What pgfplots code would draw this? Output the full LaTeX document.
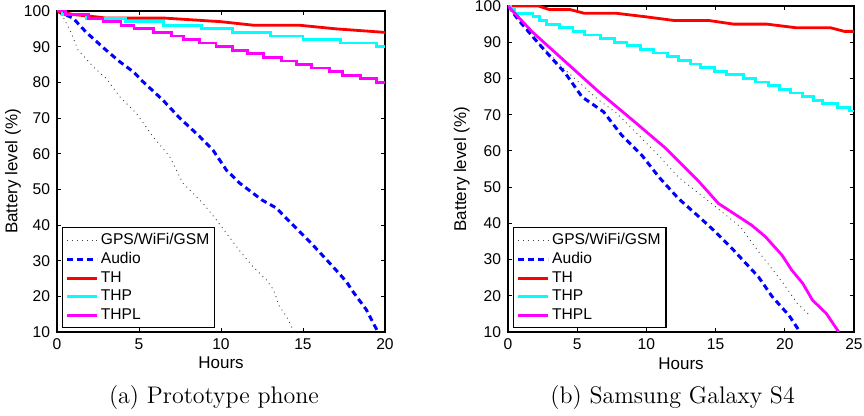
\documentclass[border=0pt]{standalone}
\usepackage{fontspec}
\newfontfamily\helv{Liberation Sans}
\usepackage{pgfplots}
\pgfplotsset{compat=1.18}
\definecolor{mred}{rgb}{1,0,0}
\definecolor{mblue}{rgb}{0,0,1}
\definecolor{mcyan}{rgb}{0,1,1}
\definecolor{mmag}{rgb}{1,0,1}

% common MATLAB-like look for both panels
\pgfplotsset{batt/.style={
  scale only axis,
  xmin=0, ymin=10, ymax=100,
  ytick={10,20,...,100},
  tick align=inside,
  xtick pos=both, ytick pos=both,
  xticklabel pos=lower, yticklabel pos=left,
  major tick length=1.8pt,
  axis line style={line width=0.6pt},
  tick style={black, line width=0.4pt},
  /pgf/number format/assume math mode=true,
  tick label style={font=\helv\fontsize{7.8}{9}\selectfont},
  xlabel={Hours}, ylabel={Battery level (\%)},
  every axis x label/.style={at={(axis description cs:0.5,-0.096)}, anchor=center,
    font=\helv\fontsize{8.5}{10}\selectfont},
  every axis y label/.style={at={(axis description cs:-0.134,0.5)}, anchor=center,
    rotate=90, font=\helv\fontsize{8.5}{10}\selectfont},
  legend style={font=\helv\fontsize{7.8}{9}\selectfont, draw=black, line width=0.6pt,
    at={(0.015,0.012)}, anchor=south west, inner sep=1.5pt,
    nodes={inner sep=1.2pt}},
  legend cell align=left,
  legend image code/.code={\draw[#1] (0pt,0pt) -- (15pt,0pt);},
}}
\tikzset{
  gps/.style={black!75, line width=0.45pt, dotted},
  aud/.style={mblue, line width=1.5pt, dash pattern=on 3pt off 2pt},
  th/.style={mred, line width=1.4pt},
  thp/.style={mcyan, line width=1.4pt},
  thpl/.style={mmag, line width=1.4pt},
}

\begin{document}
\begin{tikzpicture}
\path[use as bounding box] (-28.5pt,-42pt) rectangle (403.5pt,166pt);

% (a) prototype phone
\begin{axis}[batt, at={(0pt,0pt)}, anchor=south west,
  width=164pt, height=160.5pt, xmax=20, xtick={0,5,...,20}]
\addplot[gps] coordinates {(0,100) (0.37,98.4) (0.88,93.7) (1.28,89.1) (2.2,84.4) (3.0,81.1)
  (3.82,76) (4.84,71.3) (5.85,64.8) (6.87,59.2) (7.68,51.7) (8.9,46.1) (9.72,41.4)
  (10.5,36.7) (11.1,33) (11.95,28.3) (12.77,24.6) (13.2,21.8) (13.57,17.1) (14.0,14.3)
  (14.4,10.6) (14.5,10)};
\addplot[aud] coordinates {(0,100) (0.98,98) (1.79,94) (3.0,89) (3.82,85.8) (4.64,83)
  (5.24,80.2) (6.46,75) (7.48,70) (8.7,64.8) (9.51,61) (10.33,55.4) (11.15,51.7)
  (12.5,47) (13.4,44.7) (13.78,42.8) (14.8,38.1) (15.6,34.4) (16.83,28.3) (17.65,24.1)
  (18.05,21.3) (18.87,16.2) (19.5,10.6) (19.7,10)};
\addplot[th] coordinates {(0,100) (1,99) (2.5,98.3) (3,98) (6.6,98) (10,97) (12,96)
  (14.8,96) (17,95) (20,94)};
\addplot[thp, const plot] coordinates {(0,100) (0.3,99) (1.8,98) (4.2,97) (6.5,96)
  (8.8,95) (10.7,94) (13.0,93) (15.0,92) (17.3,91) (19.5,90) (20,90)};
\addplot[thpl, const plot] coordinates {(0,100) (0.5,99) (1.9,98) (2.8,97) (3.9,96)
  (4.7,95) (5.9,94) (7.0,93) (7.7,92) (8.7,91) (9.7,90) (10.7,89) (11.6,88) (12.6,87)
  (13.7,86) (14.6,85) (15.5,84) (16.6,83) (17.4,82) (18.5,81) (19.5,80) (20,80)};
\legend{GPS/WiFi/GSM,Audio,TH,THP,THPL}
\end{axis}

% (b) Samsung Galaxy S4
\begin{axis}[batt, at={(225.5pt,0pt)}, anchor=south west,
  width=173pt, height=163pt, xmax=25, xtick={0,5,...,25}]
\addplot[gps] coordinates {(0,100) (1.74,91.5) (4.15,82.3) (6.56,74) (7.74,70.8)
  (9.42,64.4) (10.87,58.8) (12.3,52.8) (14.4,46.4) (16.8,39) (18.2,31.7) (19.9,23.4)
  (20.9,17.9) (21.8,14.6)};
\addplot[aud] coordinates {(0,100) (0.77,96.1) (2.2,89.7) (4.15,81.4) (5.35,74.9)
  (6.9,70.8) (8.2,64.4) (9.67,58.8) (10.9,52.8) (12.3,46.9) (13.8,41.8) (15.0,37.6)
  (16.2,33) (17.2,28.9) (18.1,25.2) (19.1,19.7) (20.3,14.6) (21.1,10)};
\addplot[th] coordinates {(0,100) (2.2,100) (3,99) (4.5,99) (5.5,98) (7.8,98) (10,97)
  (12,96) (14.5,96) (16.3,95) (18.7,95) (20.8,94) (23.3,94) (24.3,93) (25,93)};
\addplot[thp, const plot] coordinates {(0,100) (0.2,99) (0.5,98) (1.8,97) (2.3,96)
  (2.8,95) (3.7,94) (4.7,93) (5.5,92) (6.7,91) (7.7,90) (8.6,89) (9.6,88) (10.5,87)
  (11.5,86) (12.3,85) (13.2,84) (13.9,83) (14.9,82) (15.8,81) (17.0,80) (17.9,79)
  (18.8,78) (19.6,77) (20.4,76) (21.3,75) (22.1,74) (22.7,73) (23.8,72) (24.7,71) (25,71)};
\addplot[thpl] coordinates {(0,100) (1.74,92.9) (4.15,84.6) (6.56,76.3) (9.0,68.5)
  (11.4,60.7) (13.8,51.5) (15.2,45.5) (17.6,39.5) (18.6,36.3) (19.8,31.2) (20.5,27.1)
  (21.3,23.4) (22.0,18.8) (23.0,15.1) (23.9,10)};
\legend{GPS/WiFi/GSM,Audio,TH,THP,THPL}
\end{axis}

\node[font=\fontsize{12}{14}\selectfont] at (78.5pt,-33pt) {(a) Prototype phone};
\node[font=\fontsize{12}{14}\selectfont] at (307.8pt,-33pt) {(b) Samsung Galaxy S4};
\end{tikzpicture}
\end{document}
